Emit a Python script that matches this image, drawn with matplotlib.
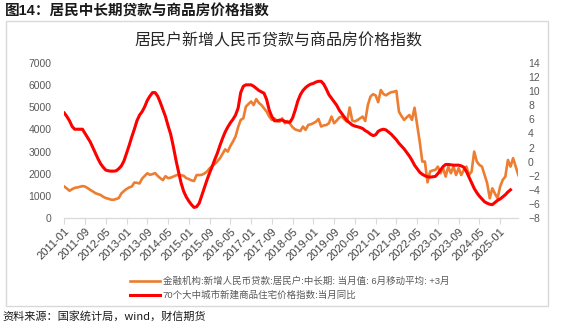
import matplotlib
matplotlib.use('Agg')
import matplotlib.pyplot as plt
from matplotlib.patches import Rectangle

plt.rcParams['font.family'] = ['Liberation Sans', 'Noto Sans CJK SC', 'DejaVu Sans']

# monthly data, month 0 = 2011-01
# 金融机构:新增人民币贷款:居民户:中长期 (6月移动平均, +3月), 亿元 -> 2011-01 .. 2025-08
loans = [1420, 1330, 1230, 1300, 1360, 1380, 1410, 1440, 1420, 1350,
         1270, 1200, 1120, 1080, 1040, 960, 900, 870, 830, 820,
         860, 900, 1110, 1220, 1310, 1380, 1420, 1600, 1590, 1560,
         1780, 1900, 2020, 1950, 1980, 2030, 1900, 1800, 1710, 1890,
         1800, 1820, 1870, 1920, 1960, 1930, 1910, 1800, 1760, 1700,
         1670, 1940, 1940, 1950, 2010, 2100, 2240, 2350, 2440, 2560,
         2700, 2900, 3100, 3000, 3250, 3450, 3680, 4100, 4430, 4500,
         5030, 5150, 5260, 5100, 5370, 5200, 5100, 4950, 4800, 4580,
         4430, 4500, 4380, 4350, 4500, 4280, 4380, 4250, 4100, 4000,
         3960, 3930, 4130, 3980, 4200, 4230, 4280, 4350, 4470, 4130,
         4180, 4200, 4280, 4580, 4280, 4400, 4540, 4580, 4450, 4350,
         4990, 4400, 4360, 4420, 4500, 4580, 4380, 5100, 5480, 5590,
         5540, 5230, 5780, 5600, 5540, 5620, 5680, 5700, 5740, 4800,
         4600, 4430, 4550, 4650, 4430, 4980, 4200, 3450, 2550, 2550,
         1610, 2100, 2150, 2170, 2320, 2020, 2250, 1870, 2320, 2020,
         2320, 1940, 2250, 1940, 2170, 2320, 1940, 2100, 3000, 2550,
         2400, 2320, 1940, 1570, 890, 1340, 1100, 890, 1420, 1720,
         1870, 2620, 2320, 2700, 2320, 1940]

# 70个大中城市新建商品住宅价格指数:当月同比, % -> 2011-01 .. 2025-05
price_yoy = [6.9, 6.4, 5.8, 5.0, 4.6, 4.6, 4.6, 4.6, 4.0, 3.4,
             2.8, 2.0, 1.2, 0.4, -0.3, -0.8, -1.2, -1.3, -1.35, -1.35,
             -1.3, -1.0, -0.6, 0.1, 1.2, 2.3, 3.5, 4.6, 5.8, 6.6,
             7.1, 7.8, 8.7, 9.3, 9.8, 9.8, 9.3, 8.4, 7.4, 6.4,
             5.1, 3.9, 2.2, 0.3, -1.4, -3.0, -4.2, -5.0, -5.6, -6.1,
             -6.5, -6.4, -5.9, -4.8, -3.7, -2.6, -1.6, -0.7, 0.3, 1.2,
             2.3, 3.3, 4.2, 4.9, 5.5, 6.0, 6.6, 7.6, 9.8, 10.7,
             10.9, 10.9, 10.9, 10.7, 10.4, 10.1, 9.9, 9.7, 8.8, 7.3,
             6.4, 5.8, 5.8, 5.9, 5.9, 5.7, 5.6, 5.6, 6.2, 7.3,
             8.6, 9.5, 10.1, 10.5, 10.8, 11.0, 11.1, 11.3, 11.4, 11.4,
             11.0, 10.3, 9.5, 9.0, 8.5, 8.0, 7.3, 6.8, 6.3, 5.8,
             5.5, 5.2, 5.05, 4.95, 4.85, 4.7, 4.4, 4.2, 3.9, 3.7,
             3.8, 4.3, 4.5, 4.6, 4.5, 4.2, 3.9, 3.5, 3.1, 2.6,
             2.2, 1.8, 1.3, 0.8, 0.2, -0.5, -1.0, -1.5, -1.8, -2.0,
             -2.15, -2.2, -2.15, -2.1, -1.7, -1.2, -0.7, -0.4, -0.4, -0.45,
             -0.5, -0.5, -0.5, -0.6, -0.8, -1.4, -2.2, -3.0, -3.8, -4.4,
             -4.9, -5.3, -5.7, -5.9, -6.05, -6.1, -5.8, -5.5, -5.3, -5.0,
             -4.7, -4.3, -4.0]

tick_labels = ['2011-01', '2011-09', '2012-05', '2013-01', '2013-09', '2014-05',
               '2015-01', '2015-09', '2016-05', '2017-01', '2017-09', '2018-05',
               '2019-01', '2019-09', '2020-05', '2021-01', '2021-09', '2022-05',
               '2023-01', '2023-09', '2024-05', '2025-01']

label_loans = '金融机构:新增人民币贷款:居民户:中长期: 当月值: 6月移动平均: +3月'
label_price = '70个大中城市新建商品住宅价格指数:当月同比'

W, H = 577, 325
fig = plt.figure(figsize=(W / 100, H / 100), dpi=100)

# outer frame
fig.add_artist(Rectangle((6 / W, 1 - 306 / H), (548 - 6) / W, (306 - 20.5) / H,
                         transform=fig.transFigure, fill=False,
                         edgecolor='#d9d9d9', linewidth=1))

ax = fig.add_axes([64.3 / W, 1 - 218 / H, (518.3 - 64.3) / W, (218 - 63) / H])
ax2 = ax.twinx()

x_loans = list(range(len(loans)))
x_price = list(range(len(price_yoy)))
l1, = ax.plot(x_loans, loans, color='#ED7D31', lw=1.9, solid_joinstyle='round')
l2, = ax2.plot(x_price, price_yoy, color='#FF0000', lw=2.2, solid_joinstyle='round')

ax.set_xlim(0, 175)
ax.set_ylim(0, 7000)
ax.set_yticks(range(0, 7001, 1000))
ax2.set_ylim(-8, 14)
ax2.set_yticks(range(-8, 15, 2))

ax.set_xticks(range(0, 8 * len(tick_labels), 8))
ax.set_xticklabels(tick_labels, rotation=45, ha='right', va='top',
                   rotation_mode='anchor')

for a in (ax, ax2):
    for s in ('top', 'left', 'right'):
        a.spines[s].set_visible(False)
    a.spines['bottom'].set_color('#d9d9d9')
ax.tick_params(axis='x', direction='out', length=4, color='#d9d9d9',
               labelsize=8, labelcolor='#404040', pad=2)
ax.tick_params(axis='y', length=0, labelsize=7.5, labelcolor='#595959', pad=9)
ax2.tick_params(axis='y', length=0, labelsize=7.5, labelcolor='#595959', pad=7)

fig.legend([l1, l2], [label_loans, label_price], loc='upper left',
           bbox_to_anchor=(130 / W, 1 - 276.5 / H), frameon=False,
           fontsize=6.8, handlelength=3.2, handletextpad=0.25,
           labelspacing=0.5, borderpad=0, borderaxespad=0,
           labelcolor='#595959')

fig.text(278 / W, 1 - 41 / H, '居民户新增人民币贷款与商品房价格指数',
         ha='center', va='center', fontsize=11.5, color='#262626',
         family=['Noto Sans CJK SC'])
fig.text(5 / W, 1 - 11.5 / H, '图14：居民中长期贷款与商品房价格指数',
         ha='left', va='center', fontsize=10.5, fontweight='bold', color='#1a1a1a',
         family=['Liberation Sans', 'Noto Sans CJK SC'])
fig.text(2 / W, 1 - 316 / H, '资料来源：国家统计局，wind，财信期货',
         ha='left', va='center', fontsize=8, color='#1a1a1a',
         family=['Noto Sans CJK SC'])

fig.savefig('out.png', dpi=100)
